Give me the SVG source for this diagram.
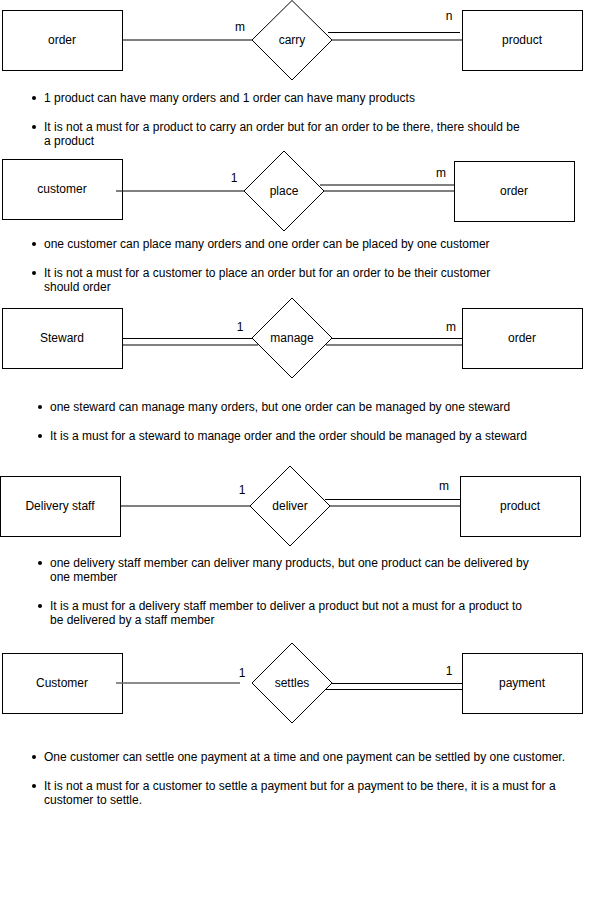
<svg xmlns="http://www.w3.org/2000/svg" width="597" height="920" viewBox="0 0 597 920">
<style>
.ent{fill:#fff;stroke:#000;stroke-width:1}
.rel{fill:#fff;stroke:#000;stroke-width:1}
.t{font-family:"Liberation Sans",Arial,sans-serif;font-size:12px;fill:#000}
.c{text-anchor:middle;dominant-baseline:central}
.ln{stroke:#000;stroke-width:1;fill:none}
.b{fill:#000}
</style>
<rect width="597" height="920" fill="#fff"/>
<g id="order1"><rect class="ent" x="2.5" y="10.5" width="120" height="60"/><text class="t c" x="62" y="40">order</text></g>
<g id="carry"><polygon class="rel" points="292,0.5 332,40 292,80 252,40"/><text class="t c" x="292" y="40">carry</text></g>
<g id="product1"><rect class="ent" x="462.5" y="10.5" width="120" height="60"/><text class="t c" x="522" y="40">product</text></g>
<g id="card1"><text class="t c" x="240" y="27">m</text><text class="t c" x="449" y="16">n</text></g>

<g id="customer1"><rect class="ent" x="2.5" y="159.5" width="120" height="60"/><text class="t c" x="62" y="189">customer</text></g>
<g id="place"><polygon class="rel" points="284,151 324,191 284,231 244,191"/><text class="t c" x="284" y="191">place</text></g>
<g id="order2"><rect class="ent" x="454.5" y="161.5" width="120" height="60"/><text class="t c" x="514" y="191">order</text></g>
<g id="card2"><text class="t c" x="234" y="178">1</text><text class="t c" x="441" y="173">m</text></g>

<g id="steward"><rect class="ent" x="2.5" y="308.5" width="120" height="60"/><text class="t c" x="62" y="338">Steward</text></g>
<g id="manage"><polygon class="rel" points="292,298 332,338 292,378 252,338"/><text class="t c" x="292" y="338">manage</text></g>
<g id="order3"><rect class="ent" x="462.5" y="308.5" width="120" height="60"/><text class="t c" x="522" y="338">order</text></g>
<g id="card3"><text class="t c" x="240" y="327">1</text><text class="t c" x="451" y="327">m</text></g>

<g id="delivery"><rect class="ent" x="0.5" y="476.5" width="120" height="60"/><text class="t c" x="60" y="506">Delivery staff</text></g>
<g id="deliver"><polygon class="rel" points="290,466 330,506 290,546 250,506"/><text class="t c" x="290" y="506">deliver</text></g>
<g id="product2"><rect class="ent" x="460.5" y="476.5" width="120" height="60"/><text class="t c" x="520" y="506">product</text></g>
<g id="card4"><text class="t c" x="242" y="490">1</text><text class="t c" x="444" y="486">m</text></g>

<g id="customer2"><rect class="ent" x="2.5" y="653.5" width="120" height="60"/><text class="t c" x="62" y="683">Customer</text></g>
<g id="settles"><polygon class="rel" points="292,643 332,683 292,723 252,683"/><text class="t c" x="292" y="683">settles</text></g>
<g id="payment"><rect class="ent" x="462.5" y="653.5" width="120" height="60"/><text class="t c" x="522" y="683">payment</text></g>
<g id="card5"><text class="t c" x="242" y="673">1</text><text class="t c" x="449" y="671">1</text></g>

<g id="connectors">
<line class="ln" x1="122" y1="40" x2="252" y2="40"/>
<line class="ln" x1="328" y1="32.5" x2="460" y2="32.5"/>
<line class="ln" x1="332" y1="40" x2="462" y2="40"/>
<line class="ln" x1="116" y1="191" x2="244" y2="191"/>
<line class="ln" x1="320" y1="185" x2="454" y2="185"/>
<line class="ln" x1="324" y1="191" x2="454" y2="191"/>
<line class="ln" x1="122" y1="338.5" x2="252" y2="338.5"/>
<line class="ln" x1="122" y1="345" x2="258" y2="345"/>
<line class="ln" x1="332" y1="338.5" x2="462" y2="338.5"/>
<line class="ln" x1="326" y1="345" x2="462" y2="345"/>
<line class="ln" x1="120" y1="506" x2="250" y2="506"/>
<line class="ln" x1="325" y1="499.5" x2="460" y2="499.5"/>
<line class="ln" x1="330" y1="506" x2="460" y2="506"/>
<line x1="116" y1="683" x2="240" y2="683" stroke="#666" stroke-width="1.5"/>
<line class="ln" x1="332" y1="683.5" x2="462" y2="683.5"/>
<line class="ln" x1="326" y1="689.5" x2="462" y2="689.5"/>
</g>

<g id="notes1">
<circle class="b" cx="34" cy="98" r="2"/><text class="t" x="44" y="102">1 product can have many orders and 1 order can have many products</text>
<circle class="b" cx="34" cy="127" r="2"/><text class="t" x="44" y="131">It is not a must for a product to carry an order but for an order to be there, there should be</text>
<text class="t" x="44" y="145">a product</text>
</g>
<g id="notes2">
<circle class="b" cx="34" cy="244" r="2"/><text class="t" x="44" y="248">one customer can place many orders and one order can be placed by one customer</text>
<circle class="b" cx="34" cy="273" r="2"/><text class="t" x="44" y="277">It is not a must for a customer to place an order but for an order to be their customer</text>
<text class="t" x="44" y="291">should order</text>
</g>
<g id="notes3">
<circle class="b" cx="40" cy="407" r="2"/><text class="t" x="50" y="411">one steward can manage many orders, but one order can be managed by one steward</text>
<circle class="b" cx="40" cy="436" r="2"/><text class="t" x="50" y="440">It is a must for a steward to manage order and the order should be managed by a steward</text>
</g>
<g id="notes4">
<circle class="b" cx="40" cy="563" r="2"/><text class="t" x="50" y="567">one delivery staff member can deliver many products, but one product can be delivered by</text>
<text class="t" x="50" y="581">one member</text>
<circle class="b" cx="40" cy="606" r="2"/><text class="t" x="50" y="610">It is a must for a delivery staff member to deliver a product but not a must for a product to</text>
<text class="t" x="50" y="624">be delivered by a staff member</text>
</g>
<g id="notes5">
<circle class="b" cx="34" cy="757" r="2"/><text class="t" x="44" y="761">One customer can settle one payment at a time and one payment can be settled by one customer.</text>
<circle class="b" cx="34" cy="786" r="2"/><text class="t" x="44" y="790">It is not a must for a customer to settle a payment but for a payment to be there, it is a must for a</text>
<text class="t" x="44" y="804">customer to settle.</text>
</g>
</svg>
